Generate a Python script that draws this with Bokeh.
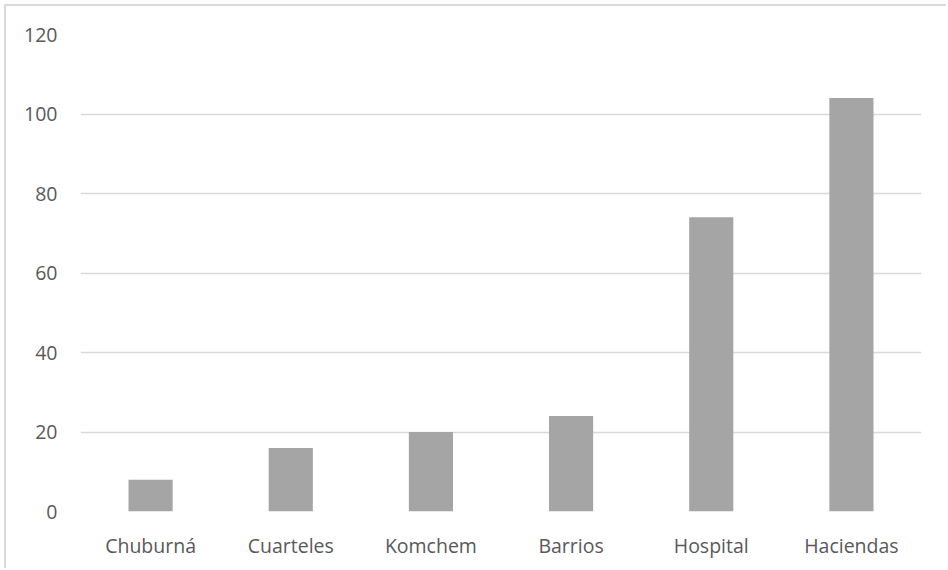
from bokeh.plotting import figure
from bokeh.embed import file_html
from bokeh.resources import INLINE
from bokeh.models import ColumnDataSource, FixedTicker, Range1d

# Data
sites = ["Chuburná", "Cuarteles", "Komchem", "Barrios", "Hospital", "Haciendas"]
counts = [8, 16, 20, 24, 74, 104]
y_ticks = [0, 20, 40, 60, 80, 100, 120]

source = ColumnDataSource(data=dict(site=sites, count=counts))

p = figure(
    x_range=sites,
    y_range=Range1d(0, 120),
    width=942,
    height=564,
    output_backend="svg",
    toolbar_location=None,
    min_border_left=74,
    min_border_right=27,
    min_border_top=28,
    min_border_bottom=59,
)
p.margin = (6, 0, 0, 6)
# thin light border on the chart area's left and top edges
p.styles = {"box-shadow": "-2px -2px 0 0 #d9d9d9"}

p.vbar(x="site", top="count", width=0.315, source=source,
       fill_color="#a5a5a5", line_color=None)

p.outline_line_color = None
p.background_fill_color = "white"
p.border_fill_color = "white"

# Grid
p.xgrid.grid_line_color = None
p.ygrid.grid_line_color = "#d9d9d9"
p.ygrid.grid_line_width = 1.5
p.yaxis.ticker = FixedTicker(ticks=y_ticks)

# Axes
for ax in (p.xaxis, p.yaxis):
    ax.axis_line_color = None
    ax.major_tick_line_color = None
    ax.minor_tick_line_color = None
    ax.major_label_text_font = "Open Sans"
    ax.major_label_text_font_size = "19.5px"
    ax.major_label_text_color = "#595959"
p.yaxis.major_label_standoff = 17
p.xaxis.major_label_standoff = 14
p.x_range.range_padding = 0

open("out.html", "w").write(file_html(p, INLINE))
